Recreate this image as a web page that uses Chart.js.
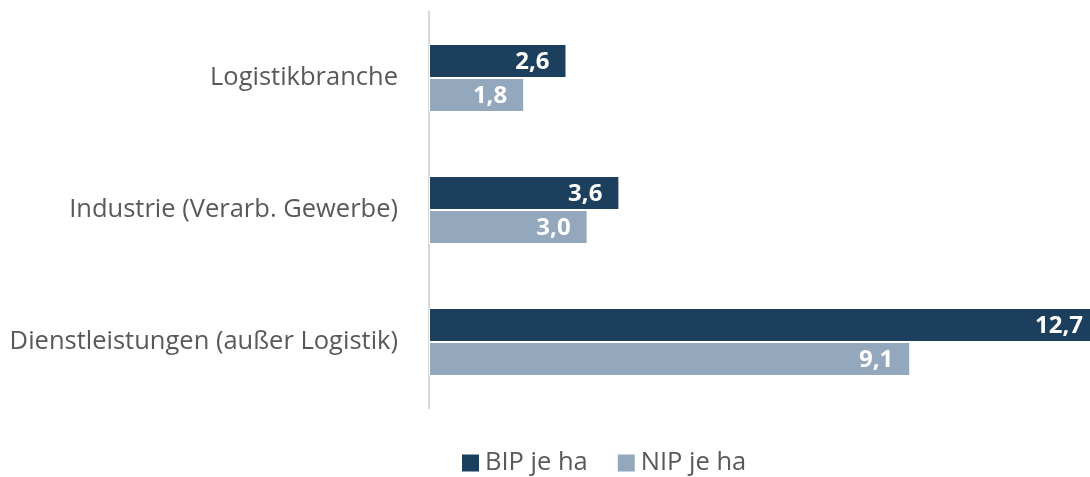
<!DOCTYPE html>
<html><head><meta charset="utf-8">
<script src="https://cdn.jsdelivr.net/npm/chart.js@4/dist/chart.umd.min.js"></script>
<style>html,body{margin:0;padding:0;background:#fff}#w{width:1090px;height:477px}</style>
</head><body><div id="w"><canvas id="c"></canvas></div>
<script>
const categories = ["Logistikbranche", "Industrie (Verarb. Gewerbe)", "Dienstleistungen (außer Logistik)"];
const bipValues = [2.6, 3.6, 12.7];
const nipValues = [1.8, 3.0, 9.1];
const seriesNames = ["BIP je ha", "NIP je ha"];

const labelPlugin = {
  id: 'valLabels',
  afterDatasetsDraw(chart) {
    const ctx = chart.ctx;
    ctx.save();
    ctx.font = 'bold 24px "Open Sans"';
    ctx.fillStyle = '#ffffff';
    ctx.textAlign = 'right';
    ctx.textBaseline = 'middle';
    chart.data.datasets.forEach((ds, di) => {
      chart.getDatasetMeta(di).data.forEach((bar, i) => {
        const txt = ds.data[i].toFixed(1).replace('.', ',');
        const x = Math.min(bar.x - 17, chart.width - 7);
        ctx.fillText(txt, x, bar.y + 1);
      });
    });
    ctx.restore();
  }
};

const legendPlugin = {
  id: 'customLegend',
  afterDraw(chart) {
    const ctx = chart.ctx;
    ctx.save();
    ctx.font = '25.5px "Open Sans"';
    ctx.textBaseline = 'middle';
    ctx.textAlign = 'left';
    let x = 462;
    const cy = 463;
    chart.data.datasets.forEach(ds => {
      ctx.fillStyle = ds.backgroundColor;
      ctx.fillRect(x, cy - 8.5, 17, 17);
      ctx.fillStyle = '#595959';
      ctx.fillText(ds.label, x + 23, cy);
      x += 23 + ctx.measureText(ds.label).width + 30;
    });
    ctx.restore();
  }
};

new Chart(document.getElementById('c'), {
  type: 'bar',
  data: {
    labels: categories,
    datasets: [
      { label: seriesNames[0], data: bipValues, backgroundColor: '#1d3f5e', borderColor: '#ffffff', borderWidth: 1, borderSkipped: false },
      { label: seriesNames[1], data: nipValues, backgroundColor: '#94a8bd', borderColor: '#ffffff', borderWidth: 1, borderSkipped: false }
    ]
  },
  options: {
    indexAxis: 'y',
    responsive: true,
    maintainAspectRatio: false,
    animation: false,
    layout: { padding: { top: 12, right: 0, bottom: 69, left: 0 } },
    datasets: { bar: { barPercentage: 1.0, categoryPercentage: 0.515 } },
    scales: {
      x: { min: 0, max: 12.5, display: false },
      y: {
        grid: { display: false, drawTicks: false },
        border: { display: true, color: '#d9d9d9', width: 2 },
        ticks: { color: '#595959', font: { family: 'Open Sans', size: 25.5 }, padding: 31 },
        afterFit(scale) {
          scale.width = 429;
          scale.paddingTop = 0;
          scale.paddingBottom = 0;
        }
      }
    },
    plugins: {
      legend: { display: false },
      tooltip: { enabled: false }
    }
  },
  plugins: [labelPlugin, legendPlugin]
});
</script></body></html>
